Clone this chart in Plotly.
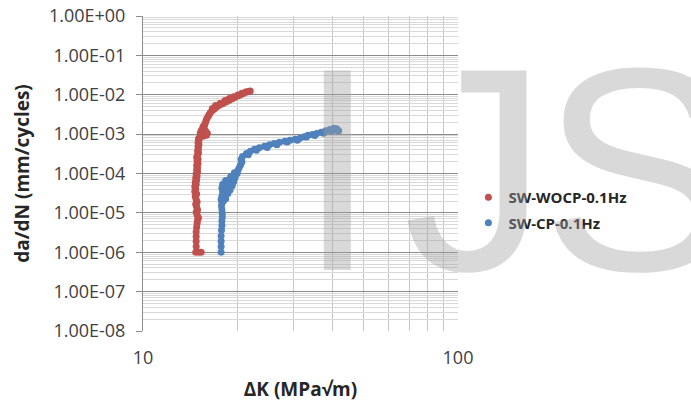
import plotly.graph_objects as go

# ---------------- data ----------------
wocp_name = "SW-WOCP-0.1Hz"
wocp_dk = [14.7, 15.0, 15.3,
           14.75, 14.75, 14.75, 14.75, 14.8, 14.85, 14.9, 15.0, 14.85, 14.75,
           14.9, 14.8, 14.7, 14.85, 14.75, 14.65, 14.8, 14.6, 14.7, 14.6,
           14.75, 14.65, 14.8, 14.7, 14.85, 14.75, 14.9, 14.8, 14.9, 14.8,
           14.95, 14.85, 14.95, 14.8, 14.9, 15.0, 14.9, 15.0, 14.95, 15.05,
           14.95, 15.05, 15.0, 15.15, 15.5, 15.9, 15.3, 15.7, 16.0, 15.2,
           15.5, 15.8, 15.35, 15.6, 15.5, 15.7, 15.75, 15.85, 15.95, 16.1,
           16.2, 16.35, 16.55, 16.8, 17.1, 17.4, 17.7, 18.0, 18.4, 18.8,
           19.2, 19.6, 20.0, 20.4, 20.8, 21.2, 21.6, 21.9,
           16.6, 17.0, 17.6, 18.2, 18.8, 19.4, 20.0, 20.6, 21.2]
wocp_dadn = [1.0e-6, 1.0e-6, 1.0e-6,
             1.4e-6, 1.9e-6, 2.5e-6, 3.3e-6, 4.3e-6, 5.4e-6, 6.5e-6, 7.5e-6, 8.8e-6, 1.05e-5,
             1.2e-5, 1.4e-5, 1.65e-5, 1.9e-5, 2.2e-5, 2.6e-5, 3.0e-5, 3.5e-5, 4.0e-5, 4.6e-5,
             5.3e-5, 6.0e-5, 6.8e-5, 7.7e-5, 8.6e-5, 9.7e-5, 1.1e-4, 1.25e-4, 1.4e-4, 1.6e-4,
             1.8e-4, 2.05e-4, 2.3e-4, 2.6e-4, 2.95e-4, 3.3e-4, 3.75e-4, 4.2e-4, 4.8e-4, 5.4e-4,
             6.1e-4, 6.9e-4, 7.6e-4, 8.3e-4, 8.8e-4, 9.3e-4, 9.6e-4, 1.02e-3, 1.06e-3, 1.08e-3,
             1.15e-3, 1.2e-3, 1.27e-3, 1.4e-3, 1.55e-3, 1.7e-3, 1.9e-3, 2.2e-3, 2.5e-3, 2.8e-3,
             3.1e-3, 3.5e-3, 3.9e-3, 4.3e-3, 4.8e-3, 5.3e-3, 5.7e-3, 6.1e-3, 6.6e-3, 7.2e-3,
             7.9e-3, 8.6e-3, 9.3e-3, 1.0e-2, 1.08e-2, 1.15e-2, 1.21e-2, 1.24e-2,
             4.5e-3, 5.3e-3, 6.1e-3, 7.1e-3, 8.0e-3, 8.9e-3, 9.9e-3, 1.09e-2, 1.18e-2]

cp_name = "SW-CP-0.1Hz"
cp_dk = [17.7, 17.7, 17.7, 17.7, 17.75, 17.8, 17.8, 17.85, 17.85, 17.8, 17.75, 17.8,
         17.7, 18.0, 18.3, 17.8, 18.2, 18.6, 17.9, 18.4, 18.9, 17.8, 18.3, 18.8,
         19.2, 17.9, 18.5, 19.0, 19.4, 18.3, 18.8, 19.3, 19.6, 19.0, 19.6, 19.9,
         19.5, 20.0, 20.2, 20.4, 20.6, 20.5, 20.7,
         21.3, 21.9, 22.6, 23.4, 24.3, 25.2, 26.1, 27.1, 28.2, 29.3, 30.4, 31.5,
         32.5, 33.4, 34.5, 35.6, 36.8, 38.0, 39.2, 40.3, 41.2, 41.8, 41.0, 39.8,
         21.6, 22.9, 24.8, 26.6, 28.7, 30.9, 33.0, 35.1, 37.4, 39.6]
cp_dadn = [1.0e-6, 1.4e-6, 1.9e-6, 2.6e-6, 3.6e-6, 4.8e-6, 6.2e-6, 7.8e-6, 9.8e-6, 1.2e-5, 1.5e-5, 1.8e-5,
           2.2e-5, 2.0e-5, 2.3e-5, 2.7e-5, 2.9e-5, 3.1e-5, 3.4e-5, 3.6e-5, 3.8e-5, 4.2e-5, 4.5e-5, 4.7e-5,
           4.9e-5, 5.3e-5, 5.6e-5, 5.9e-5, 6.2e-5, 6.6e-5, 7.0e-5, 7.3e-5, 7.8e-5, 8.4e-5, 9.0e-5, 1.0e-4,
           1.05e-4, 1.2e-4, 1.4e-4, 1.65e-4, 1.95e-4, 2.3e-4, 2.7e-4,
           3.2e-4, 3.7e-4, 4.1e-4, 4.5e-4, 4.9e-4, 5.4e-4, 5.8e-4, 6.2e-4, 6.6e-4, 7.0e-4, 7.4e-4, 7.9e-4,
           8.6e-4, 9.3e-4, 9.8e-4, 1.04e-3, 1.12e-3, 1.22e-3, 1.32e-3, 1.40e-3, 1.36e-3, 1.22e-3, 1.25e-3, 1.25e-3,
           3.0e-4, 3.9e-4, 4.6e-4, 5.4e-4, 6.3e-4, 7.0e-4, 8.4e-4, 9.2e-4, 1.06e-3, 1.18e-3]

y_tick_vals = [1e-8, 1e-7, 1e-6, 1e-5, 1e-4, 1e-3, 1e-2, 1e-1, 1e0]
y_tick_text = ["1.00E-08", "1.00E-07", "1.00E-06", "1.00E-05", "1.00E-04",
               "1.00E-03", "1.00E-02", "1.00E-01", "1.00E+00"]
x_tick_vals = [10, 100]
x_tick_text = ["10", "100"]

x_title = "ΔK (MPa√m)"
y_title = "da/dN (mm/cycles)"
watermark_letters = ["I", "J", "S"]
watermark_x = [0.4825, 0.818, 1.256]

RED = "#C0504D"
BLUE = "#4F81BD"

fig = go.Figure()
fig.add_trace(go.Scatter(x=wocp_dk, y=wocp_dadn, mode="markers", name=wocp_name,
                         legendgroup="a",
                         marker=dict(color=RED, size=7, line=dict(width=0))))
fig.add_trace(go.Scatter(x=cp_dk, y=cp_dadn, mode="markers", name=cp_name,
                         legendgroup="b",
                         marker=dict(color=BLUE, size=7, line=dict(width=0))))

minor_x = [k * 10 for k in range(2, 10)]
minor_y = [k * 10.0 ** e for e in range(-8, 0) for k in range(2, 10)]

annotations = [dict(text=t, xref="paper", yref="paper", x=xp, y=0.514,
                    xanchor="left", yanchor="middle", showarrow=False,
                    font=dict(family="Liberation Sans", size=290,
                              color="rgba(160,160,160,0.4)"))
               for t, xp in zip(watermark_letters, watermark_x)]

fig.update_layout(
    template="none",
    width=691, height=402,
    margin=dict(l=143, r=233, t=16, b=71, pad=0),
    paper_bgcolor="white", plot_bgcolor="white",
    font=dict(family="Open Sans", color="#404040"),
    showlegend=True,
    legend=dict(x=1.033, xanchor="left", y=0.384, yanchor="middle",
                font=dict(size=15, color="#262626", family="Open Sans", weight="bold"),
                itemwidth=30, traceorder="grouped", tracegroupgap=3,
                bgcolor="rgba(0,0,0,0)"),
    xaxis=dict(type="log", range=[1, 2], tickvals=x_tick_vals, ticktext=x_tick_text,
               showgrid=True, gridcolor="#c8c8c8", gridwidth=1,
               minor=dict(tickvals=minor_x, showgrid=True, gridcolor="#c8c8c8", ticks=""),
               ticks="", showline=False, zeroline=False,
               tickfont=dict(size=18, color="#404040"), ticklabelstandoff=14,
               title=dict(text=x_title, font=dict(size=19, color="#262626", weight="bold"),
                          standoff=17),
               automargin=False),
    yaxis=dict(type="log", range=[-8, 0], tickvals=y_tick_vals, ticktext=y_tick_text,
               showgrid=True, gridcolor="#8c8c8c", gridwidth=1,
               minor=dict(tickvals=minor_y, showgrid=True, gridcolor="#d9d9d9", ticks=""),
               ticks="outside", ticklen=6, tickcolor="#8c8c8c",
               showline=True, linecolor="#8c8c8c", linewidth=1, zeroline=False,
               tickfont=dict(size=18, color="#404040"), ticklabelstandoff=7,
               title=dict(text=y_title, font=dict(size=19, color="#262626", weight="bold"),
                          standoff=14),
               automargin=False),
    annotations=annotations,
)

fig.write_html("out.html", config={"displayModeBar": False},
               post_script="document.body.style.margin='0px';")
